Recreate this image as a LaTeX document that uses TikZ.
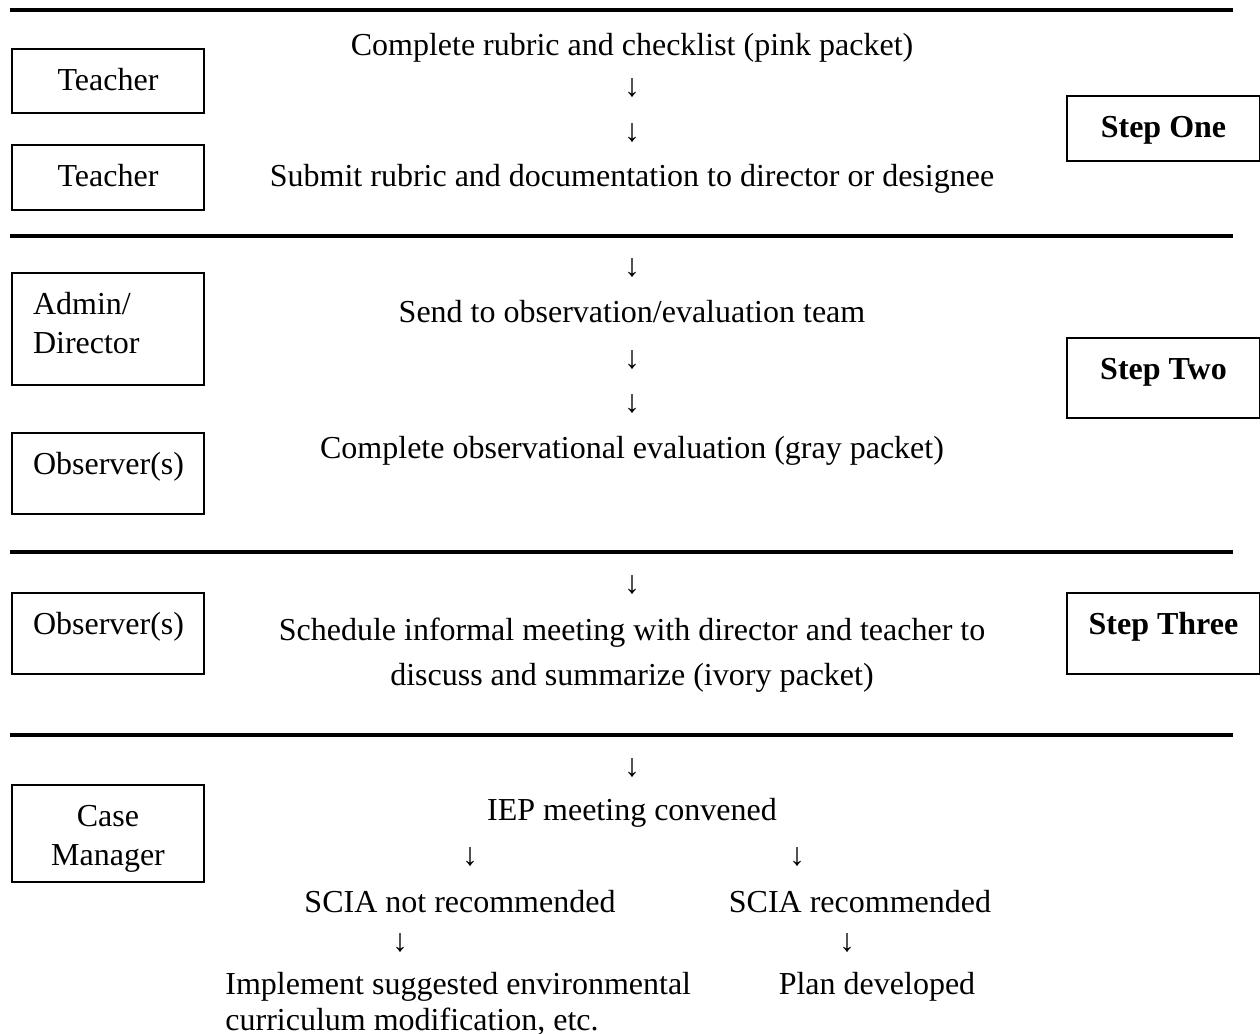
\documentclass[tikz,border=0pt]{standalone}
\usepackage{fontspec}
\setmainfont{Liberation Serif}
\begin{document}
\begin{tikzpicture}[x=0.5pt, y=-0.5pt,
  every node/.style={font=\fontsize{16}{19.5}\selectfont},
  role/.style={draw, line width=1pt, rectangle, anchor=north, inner xsep=10.5pt, inner ysep=0pt, text width=75pt, align=center, text height=20.5pt},
  stepbox/.style={role, inner xsep=2.25pt, text width=92pt, align=flush center, font=\fontsize{16}{19.5}\selectfont\bfseries},
  flowtext/.style={anchor=base, inner sep=0pt},
  flowarrow/.style={inner sep=0pt},
  rule/.style={line width=1.75pt}]
  \useasboundingbox (0,0) rectangle (1260,1034);
  \foreach \y in {10,236,552,735}
    \draw[rule] (10,\y) -- (1233,\y);
  \node[role, text depth=11.5pt] (teacherTop) at (108,48) {Teacher};
  \node[role, text depth=12pt] (teacherBottom) at (108,144) {Teacher};
  \node[role, text depth=35.5pt, align=left] (adminDirector) at (108,272) {Admin/\\Director};
  \node[role, text depth=20pt] (observerTwo) at (108,432) {Observer(s)};
  \node[role, text depth=20pt] (observerThree) at (108,592) {Observer(s)};
  \node[role, text depth=28pt] (caseManager) at (108,784) {Case\\Manager};
  \node[stepbox, text depth=12pt] (stepOne) at (1163.5,95) {Step One};
  \node[stepbox, text depth=19.5pt] (stepTwo) at (1163.5,337) {Step Two};
  \node[stepbox, text depth=20pt] (stepThree) at (1163.5,592) {Step Three};
  \node[flowtext] (completeRubric) at (632,55) {Complete rubric and checklist (pink packet)};
  \node[flowarrow] (downOne) at (632,88) {↓};
  \node[flowarrow] (downTwo) at (632,133) {↓};
  \node[flowtext] (submitRubric) at (632,186) {Submit rubric and documentation to director or designee};
  \node[flowarrow] (downThree) at (632,268) {↓};
  \node[flowtext] (sendTeam) at (632,322) {Send to observation/evaluation team};
  \node[flowarrow] (downFour) at (632,360) {↓};
  \node[flowarrow] (downFive) at (632,404) {↓};
  \node[flowtext] (completeEval) at (632,458) {Complete observational evaluation (gray packet)};
  \node[flowarrow] (downSix) at (632,585) {↓};
  \node[flowtext, align=center, font=\fontsize{16}{22.5}\selectfont] (scheduleMeeting) at (632,685) {Schedule informal meeting with director and teacher to\\discuss and summarize (ivory packet)};
  \node[flowarrow] (downSeven) at (632,768) {↓};
  \node[flowtext] (iepMeeting) at (632,820) {IEP meeting convened};
  \node[flowarrow] (downLeft) at (470,857) {↓};
  \node[flowarrow] (downRight) at (797,857) {↓};
  \node[flowtext] (sciaNot) at (460,912) {SCIA not recommended};
  \node[flowtext] (sciaYes) at (860,912) {SCIA recommended};
  \node[flowarrow] (downNot) at (400,943) {↓};
  \node[flowarrow] (downYes) at (847,943) {↓};
  \node[flowtext, anchor=base west, align=left, font=\fontsize{16}{18}\selectfont] (implementMods) at (225,1030) {Implement suggested environmental\\curriculum modification, etc.};
  \node[flowtext] (planDeveloped) at (877,994) {Plan developed};
\end{tikzpicture}
\end{document}
